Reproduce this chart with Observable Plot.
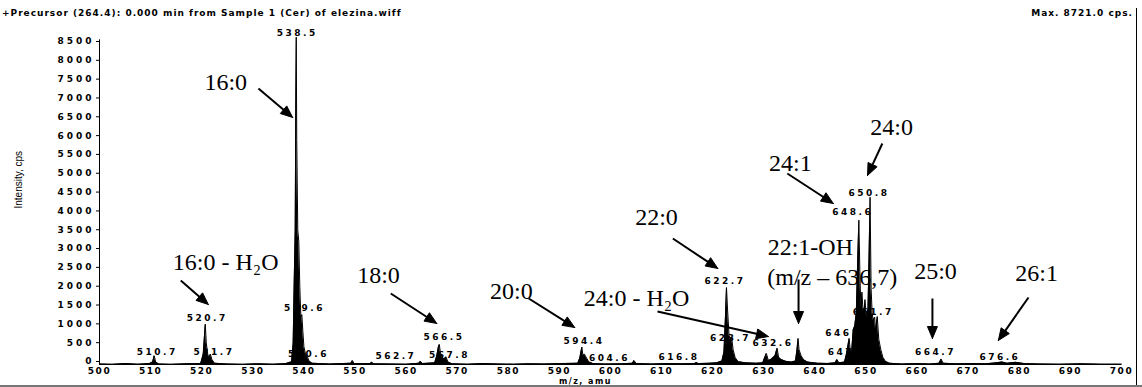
<!DOCTYPE html>
<html>
<head>
<meta charset="utf-8">
<script src="https://cdn.jsdelivr.net/npm/d3@7"></script>
<script src="https://cdn.jsdelivr.net/npm/@observablehq/plot@0.6"></script>
<style>
  body { margin: 0; background: #fff; }
  #wrap { position: relative; width: 1142px; height: 387px; overflow: hidden; background: #fff; }
  #title { position: absolute; left: 2px; top: 8px; font: bold 9px "DejaVu Sans", sans-serif; letter-spacing: 1px; white-space: nowrap; color: #000; }
  #maxtxt { position: absolute; right: 9px; top: 8px; font: bold 9px "DejaVu Sans", sans-serif; letter-spacing: 1px; white-space: nowrap; color: #000; }
  #rline { position: absolute; left: 1136px; top: 8px; width: 1px; height: 377px; background: #000; }
  #bline { position: absolute; left: 0; top: 385px; width: 1142px; height: 2px; background: #777; }
  #chart { position: absolute; left: 0; top: 0; }
</style>
</head>
<body>
<div id="wrap">
  <div id="chart"></div>
  <div id="title">+Precursor (264.4): 0.000 min from Sample 1 (Cer) of elezina.wiff</div>
  <div id="maxtxt">Max. 8721.0 cps.</div>
  <div id="rline"></div>
  <div id="bline"></div>
</div>
<script>
// ---- axis definitions ----
const xDomain = [500, 700];
const yDomain = [0, 8792];
const xTickValues = [500,510,520,530,540,550,560,570,580,590,600,610,620,630,640,650,660,670,680,690,700];
const yTickValues = [0,500,1000,1500,2000,2500,3000,3500,4000,4500,5000,5500,6000,6500,7000,7500,8000,8500];
const yAxisTop = 8650;
const xAxisTitle = "m/z, amu";
const xAxisTitlePos = 595.1;
const yAxisTitle = "Intensity, cps";
const yAxisTitlePos = 4170;

// ---- spectrum profile (m/z, intensity in cps) ----
const mzValues = [
  500.0,502.5,505.0,507.5,509.8,510.4,510.7,511.0,511.6,514.0,517.0,519.8,
  520.3,520.5,520.7,520.9,521.2,521.5,521.7,522.0,522.5,525.0,528.0,531.0,534.0,536.5,
  537.6,537.9,538.1,538.3,538.4,538.5,538.6,538.8,539.0,539.2,539.4,539.6,539.8,540.0,540.3,540.6,541.0,541.6,
  545.0,549.2,549.5,549.8,553.0,553.3,553.6,557.0,560.0,562.5,562.8,563.2,
  565.6,566.0,566.3,566.5,566.7,567.1,567.5,567.8,568.2,569.0,
  572.0,575.0,578.0,581.0,584.0,587.0,590.0,
  593.6,594.0,594.2,594.4,594.6,594.9,595.3,595.8,596.6,
  599.0,602.0,604.3,604.6,605.0,608.0,611.0,614.0,616.5,616.8,617.2,619.3,620.8,
  621.8,622.2,622.5,622.7,622.9,623.2,623.5,623.7,624.0,624.4,625.0,626.5,628.5,
  629.8,630.2,630.5,630.9,631.4,632.2,632.6,632.9,633.4,634.3,635.4,
  636.2,636.5,636.7,636.9,637.3,637.8,638.6,640.5,642.5,644.0,644.3,644.7,645.8,
  646.2,646.5,646.7,646.9,647.2,647.5,647.8,648.1,648.4,648.6,648.8,649.0,649.2,649.4,649.6,649.8,
  650.0,650.2,650.4,650.6,650.8,651.0,651.2,651.4,651.7,651.9,652.2,652.5,652.9,653.3,653.8,654.6,
  657.0,660.0,662.5,664.3,664.7,665.1,667.5,670.5,673.5,675.5,676.6,677.6,679.3,681.0,684.0,688.0,692.0,696.0,700.0
];
const intensityValues = [
  40,30,50,35,50,90,260,90,40,30,45,50,
  300,700,1100,600,280,220,300,160,60,40,30,45,35,50,
  100,600,2200,3600,6500,8721,6000,3600,3300,2100,1300,1350,900,500,320,260,120,60,
  40,60,130,50,50,90,45,40,35,60,110,50,
  70,250,480,560,350,200,180,230,90,45,
  35,50,40,35,45,40,50,
  60,200,350,490,260,300,200,90,50,
  40,45,60,130,55,40,50,45,55,80,50,60,70,
  120,350,1300,2070,1500,800,680,760,420,210,100,70,60,
  70,220,320,130,160,260,460,220,160,110,90,
  120,420,720,420,260,150,90,60,55,70,160,70,90,
  320,560,720,420,380,950,1050,1400,2900,3860,2500,1500,1950,1500,1400,1750,
  1400,1250,1550,2900,4470,2050,1400,1200,1280,900,1300,700,420,220,110,60,
  40,50,40,60,170,60,45,50,45,70,95,60,85,50,40,35,45,35,35
];

// ---- peak labels ----
const peakLabelText = ["538.5","520.7","510.7","521.7","539.6","540.6","562.7","567.8","566.5","594.4","604.6","616.8",
  "622.7","623.7","632.6","646","647","648.6","650.8","651.7","664.7","676.6"];
const peakLabelMz = [538.7,521.1,511.3,522.4,540.1,540.9,558.0,568.5,567.4,594.8,599.8,613.4,
  622.4,623.5,631.8,644.6,645.1,647.4,650.6,651.4,663.6,676.2];
const peakLabelIntensity = [8818,1248,345,345,1514,292,239,266,744,637,186,212,
  2231,717,584,850,345,4064,4568,1408,345,212];

// ---- compound annotations ----
const annotationText = ["16:0","16:0 - H\u2082O","18:0","20:0","22:0","24:0 - H\u2082O","22:1-OH","(m/z \u2013 636,7)","24:1","24:0","25:0","26:1"];
const annotationMz = [524.7,524.7,554.6,580.6,609.0,605.1,639.1,643.4,635.2,655.0,663.6,683.4];
const annotationIntensity = [7517,2736,2391,1966,3931,1780,3134,2338,5366,6322,2497,2444];

// ---- arrows (start -> tip) ----
const arrowStartMz = [531.1,515.9,557.0,584.0,612.2,609.2,636.8,634.6,653.2,663.0,681.8];
const arrowStartInt = [7358,2258,1913,1780,3373,1434,2284,5100,5897,1780,1806];
const arrowTipMz = [537.8,521.3,566.0,593.0,621.0,630.9,636.8,643.6,650.3,663.0,675.9];
const arrowTipInt = [6588,1620,1116,1009,2577,770,1116,4303,5047,717,664];

// ---- build ----
const W = 1142, H = 387, mL = 99, mR = 21, mT = 34, mB = 22;
const spectrum = mzValues.map((m, i) => ({mz: m, intensity: intensityValues[i]}));
const peaks = peakLabelText.map((t, i) => ({t, x: peakLabelMz[i], y: peakLabelIntensity[i]}));
const notes = annotationText.map((t, i) => ({t, x: annotationMz[i], y: annotationIntensity[i]}));

const sx = d3.scaleLinear(xDomain, [mL, W - mR]);
const sy = d3.scaleLinear(yDomain, [H - mB, mT]);
const headL = 12, headW = 10;
const shafts = [], heads = [];
arrowStartMz.forEach((_, i) => {
  const x1 = sx(arrowStartMz[i]), y1 = sy(arrowStartInt[i]);
  const x2 = sx(arrowTipMz[i]), y2 = sy(arrowTipInt[i]);
  const len = Math.hypot(x2 - x1, y2 - y1);
  const ux = (x2 - x1) / len, uy = (y2 - y1) / len;
  const bx = x2 - ux * headL, by = y2 - uy * headL;
  const nx = -uy, ny = ux;
  shafts.push({x1: arrowStartMz[i], y1: arrowStartInt[i], x2: sx.invert(bx + ux * 2), y2: sy.invert(by + uy * 2)});
  [[x2, y2], [bx + nx * headW / 2, by + ny * headW / 2], [bx - nx * headW / 2, by - ny * headW / 2], [x2, y2]]
    .forEach(([px, py]) => heads.push({id: i, x: sx.invert(px), y: sy.invert(py)}));
});

const chart = Plot.plot({
  width: W, height: H,
  marginLeft: mL, marginRight: mR, marginTop: mT, marginBottom: mB,
  style: {fontFamily: "DejaVu Sans, sans-serif", background: "transparent", color: "#000"},
  x: {domain: xDomain},
  y: {domain: yDomain},
  marks: [
    Plot.axisX({ticks: xTickValues, tickFormat: d3.format("d"), tickSize: 0, tickPadding: 2, fontSize: 9, fontWeight: "bold", label: null}),
    Plot.axisY({ticks: yTickValues, tickFormat: d3.format("d"), tickSize: 3, tickPadding: 2, dy: -4, fontSize: 9, fontWeight: "bold", label: null}),
    Plot.ruleX([xDomain[0]], {y1: 0, y2: yAxisTop, stroke: "#000", strokeWidth: 1}),
    Plot.areaY(spectrum, {x: "mz", y: "intensity", fill: "#000", curve: "linear"}),
    Plot.lineY(spectrum, {x: "mz", y: "intensity", stroke: "#000", strokeWidth: 1}),
    Plot.text(peaks, {x: "x", y: "y", text: "t", fontSize: 9, fontWeight: "bold", fill: "#000"}),
    Plot.text(notes, {x: "x", y: "y", text: "t", fontSize: 24, fontFamily: "Liberation Serif, Times New Roman, serif", fill: "#000"}),
    Plot.link(shafts, {x1: "x1", y1: "y1", x2: "x2", y2: "y2", stroke: "#000", strokeWidth: 2}),
    Plot.line(heads, {x: "x", y: "y", z: "id", fill: "#000", stroke: "#000", strokeWidth: 1}),
    Plot.text([xAxisTitle], {x: xAxisTitlePos, frameAnchor: "bottom", dy: 18.5, text: d => d, fontSize: 8, fontWeight: "bold", fill: "#000"}),
    Plot.text([yAxisTitle], {y: yAxisTitlePos, frameAnchor: "left", dx: -81, rotate: -90, text: d => d, fontSize: 10, fontFamily: "Liberation Sans Narrow, Liberation Sans, sans-serif", fill: "#000"})
  ]
});
document.getElementById("chart").appendChild(chart);

// letter spacing for the small bold tick & peak labels
const xt = chart.querySelector('g[aria-label="x-axis tick label"]');
if (xt) xt.style.letterSpacing = "1.5px";
const yt = chart.querySelector('g[aria-label="y-axis tick label"]');
if (yt) yt.style.letterSpacing = "3px";
const textGroups = chart.querySelectorAll('g[aria-label="text"]');
if (textGroups[0]) textGroups[0].style.letterSpacing = "2.5px";
if (textGroups[2]) textGroups[2].style.letterSpacing = "1.5px";
</script>
</body>
</html>
